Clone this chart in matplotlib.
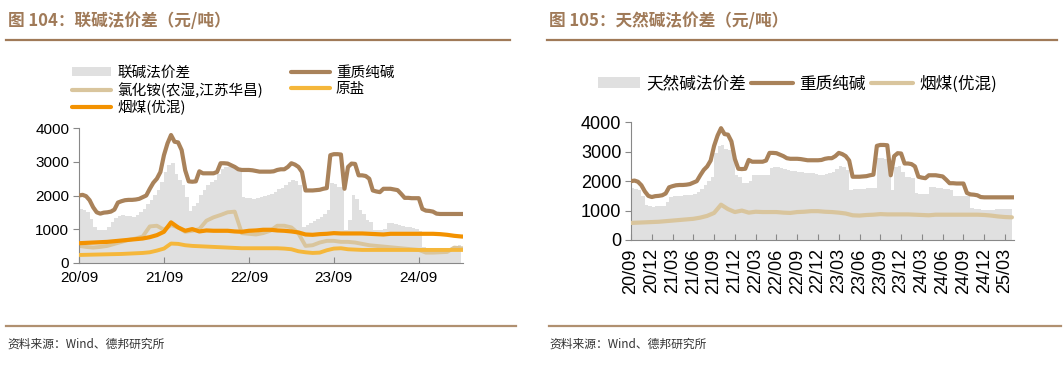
import matplotlib
matplotlib.use("Agg")
import matplotlib.pyplot as plt
import numpy as np
from matplotlib.patches import Patch
from matplotlib.lines import Line2D

plt.rcParams['font.family'] = ['Noto Sans CJK SC', 'DejaVu Sans']

# ---- data (month index 0 = 2020-09) ----
# half-month series
soda_ash = [2000, 2020, 1980, 1860, 1650, 1500, 1460, 1490, 1500, 1520,
            1580, 1790, 1830, 1860, 1870, 1870, 1880, 1900, 1950, 2000,
            2200, 2380, 2500, 2700, 3200, 3550, 3800, 3600, 3580, 3350,
            2750, 2420, 2410, 2420, 2720, 2660, 2660, 2660, 2660, 2700,
            2960, 2960, 2950, 2900, 2850, 2780, 2760, 2760, 2760, 2750,
            2730, 2710, 2710, 2710, 2710, 2720, 2760, 2780, 2780, 2850,
            2960, 2920, 2850, 2700, 2150, 2150, 2150, 2160, 2170, 2200,
            2220, 3200, 3230, 3230, 3220, 2200, 2850, 2950, 2940, 2600,
            2600, 2580, 2500, 2150, 2120, 2100, 2200, 2200, 2200, 2180,
            2160, 2050, 1930, 1930, 1920, 1920, 1920, 1600, 1550, 1540,
            1520, 1460, 1450, 1450, 1450, 1450, 1450, 1450, 1450, 1450,
            1450]
spread_joint = [1600, 1570, 1520, 1300, 1050, 980, 960, 980, 1050, 1200,
                1320, 1380, 1420, 1400, 1380, 1370, 1420, 1500, 1600, 1750,
                1870, 2000, 2160, 2400, 2700, 2900, 2960, 2650, 2450, 2300,
                1960, 1550, 1700, 1780, 2000, 2150, 2300, 2400, 2450, 2650,
                2780, 2850, 2860, 2840, 2810, 2800, 1960, 1940, 1920, 1910,
                1930, 1960, 1980, 2010, 2050, 2110, 2180, 2220, 2300, 2400,
                2460, 2420, 2300, 1070, 1120, 1170, 1250, 1300, 1370, 1450,
                1570, 2360, 2350, 2260, 2240, 980, 1270, 2010, 1900, 1570,
                1450, 1270, 1200, 970, 970, 970, 1000, 1170, 1170, 1150,
                1130, 1100, 1070, 1050, 1030, 1000, 950, 470, 420, 380,
                350, 330, 330, 350, 380, 400, 450, 520, 500]
spread_natural = [1760, 1740, 1700, 1500, 1200, 1140, 1130, 1140, 1150, 1150,
                  1300, 1450, 1480, 1500, 1510, 1520, 1530, 1530, 1560, 1640,
                  1750, 1870, 2000, 2150, 2950, 3180, 3230, 3100, 3060, 3060,
                  2210, 2150, 1930, 1950, 1990, 2210, 2210, 2210, 2210, 2220,
                  2440, 2470, 2490, 2450, 2400, 2380, 2350, 2330, 2320, 2300,
                  2280, 2270, 2260, 2240, 2220, 2210, 2240, 2290, 2300, 2400,
                  2520, 2480, 2380, 1700, 1720, 1730, 1740, 1750, 1760, 1760,
                  1780, 2780, 2800, 2760, 2720, 1700, 2480, 2500, 2300, 2150,
                  2150, 2100, 1590, 1580, 1570, 1560, 1810, 1800, 1780, 1760,
                  1740, 1720, 1700, 1500, 1500, 1500, 1500, 1480, 1080, 1060,
                  1040, 1020, 1020, 1030, 1030, 1040, 1040, 1040, 1040, 1040,
                  1040]
# monthly series
coal = [580, 590, 600, 610, 620, 640, 660, 680, 700, 720,
        760, 820, 920, 1200, 1050, 950, 1000, 930, 960, 950,
        950, 950, 930, 920, 950, 960, 980, 980, 960, 950,
        930, 900, 840, 830, 850, 860, 880, 870, 870, 870,
        870, 860, 850, 840, 860, 860, 860, 860, 860, 860,
        860, 850, 830, 800, 780, 770]
salt = [230, 235, 240, 245, 250, 255, 260, 270, 280, 290,
        310, 360, 420, 570, 560, 520, 500, 490, 480, 470,
        460, 450, 440, 430, 430, 430, 430, 430, 430, 420,
        400, 340, 310, 290, 300, 370, 420, 430, 400, 390,
        380, 380, 380, 380, 380, 380, 380, 380, 380, 380,
        380, 380, 380, 380, 380, 380]
ammonium = [500, 470, 450, 470, 500, 560, 620, 680, 720, 780,
            1080, 1100, 980, 1120, 1050, 920, 950, 1000, 1250, 1350,
            1420, 1500, 1520, 880, 860, 840, 880, 950, 1100, 1100,
            1050, 870, 500, 520, 600, 650, 650, 620, 620, 600,
            560, 520, 500, 480, 460, 440, 420, 400, 380, 300,
            300, 310, 320, 450, 430, 420]

left_ticks = ['20/09', '21/09', '22/09', '23/09', '24/09']
right_ticks = ['20/09', '20/12', '21/03', '21/06', '21/09', '21/12', '22/03',
               '22/06', '22/09', '22/12', '23/03', '23/06', '23/09', '23/12',
               '24/03', '24/06', '24/09', '24/12', '25/03']

# ---- style ----
c_soda = '#A9825A'
c_gray = '#E0E0E0'
c_amm = '#D9C59D'
c_salt = '#F5B73B'
c_coal = '#F39200'
c_title = '#A07A58'
c_rule = '#A07A58'
num_font = 'Liberation Sans'

W, H = 1063, 366
fig = plt.figure(figsize=(W / 100, H / 100), dpi=100)


def fx(px):
    return px / W


def fy(py):
    return 1 - py / H


x_half = np.arange(len(soda_ash)) / 2.0
x_month = np.arange(len(coal))

# ---- headers / footers ----
fig.text(fx(8), fy(21), '图 104：联碱法价差（元/吨）', fontsize=12, fontweight='bold',
         color=c_title, va='center', ha='left')
fig.text(fx(549), fy(21), '图 105：天然碱法价差（元/吨）', fontsize=12, fontweight='bold',
         color=c_title, va='center', ha='left')
for x0, x1 in [(6, 510), (547, 1057)]:
    fig.add_artist(Line2D([fx(x0), fx(x1)], [fy(40), fy(40)], color=c_rule, lw=1.6))
for x0, x1 in [(6, 516), (549, 1061)]:
    fig.add_artist(Line2D([fx(x0), fx(x1)], [fy(326), fy(326)], color='#B09070', lw=1.6))
fig.text(fx(7), fy(344), '资料来源：Wind、德邦研究所', fontsize=8.5, color='#333333',
         va='center', ha='left')
fig.text(fx(549), fy(344), '资料来源：Wind、德邦研究所', fontsize=8.5, color='#333333',
         va='center', ha='left')

# ---- left chart ----
ax1 = fig.add_axes([fx(79), fy(262.7), fx(462.7 - 79), (262.7 - 128.3) / H])
n1 = len(spread_joint)
ax1.fill_between(x_half[:n1], 0, spread_joint, step='post', color=c_gray, lw=0, zorder=1)
ax1.plot(x_month, ammonium, color=c_amm, lw=2.8, zorder=2, solid_capstyle='round')
ax1.plot(x_month, salt, color=c_salt, lw=2.8, zorder=3, solid_capstyle='round')
ax1.plot(x_month, coal, color=c_coal, lw=3.0, zorder=4, solid_capstyle='round')
ax1.plot(x_half, soda_ash, color=c_soda, lw=3.0, zorder=5, solid_joinstyle='round')
ax1.set_xlim(0, 54.2)
ax1.set_ylim(0, 4000)
ax1.set_yticks([0, 1000, 2000, 3000, 4000])
ax1.set_xticks(np.arange(len(left_ticks)) * 12)
ax1.set_xticklabels(left_ticks)
for s in ['top', 'right']:
    ax1.spines[s].set_visible(False)
for s in ['left', 'bottom']:
    ax1.spines[s].set_color('#888888')
    ax1.spines[s].set_linewidth(0.8)
ax1.tick_params(axis='y', direction='out', length=4, color='#888888', pad=3)
ax1.tick_params(axis='x', direction='in', length=4, color='#888888', pad=6)
for lab in ax1.get_xticklabels() + ax1.get_yticklabels():
    lab.set_fontfamily(num_font)
    lab.set_fontsize(11)

h1 = [Patch(facecolor=c_gray, edgecolor='none'),
      Line2D([], [], color=c_amm, lw=3, solid_capstyle='round'),
      Line2D([], [], color=c_coal, lw=3, solid_capstyle='round'),
      Line2D([], [], color=c_soda, lw=3, solid_capstyle='round'),
      Line2D([], [], color=c_salt, lw=3, solid_capstyle='round')]
l1 = ['联碱法价差', '氯化铵(农湿,江苏华昌)', '烟煤(优混)', '重质纯碱', '原盐']
fig.legend(h1, l1, loc='upper left', bbox_to_anchor=(fx(72), fy(66)), ncol=2,
           frameon=False, fontsize=10.5, handlelength=2.7, handleheight=0.6,
           handletextpad=0.4, columnspacing=1.9, labelspacing=0.15,
           borderpad=0, borderaxespad=0)

# ---- right chart ----
ax2 = fig.add_axes([fx(631), fy(240), fx(1014 - 631), (240 - 122.3) / H])
ax2.fill_between(x_half, 0, spread_natural, step='post', color=c_gray, lw=0, zorder=1)
ax2.plot(x_month, coal, color=c_amm, lw=3.0, zorder=3, solid_capstyle='round')
ax2.plot(x_half, soda_ash, color=c_soda, lw=3.0, zorder=5, solid_joinstyle='round')
ax2.set_xlim(0, 55.3)
ax2.set_ylim(0, 4000)
ax2.set_yticks([0, 1000, 2000, 3000, 4000])
ax2.set_xticks(np.arange(len(right_ticks)) * 3)
ax2.set_xticklabels(right_ticks, rotation=90)
for s in ['top', 'right']:
    ax2.spines[s].set_visible(False)
for s in ['left', 'bottom']:
    ax2.spines[s].set_color('#888888')
    ax2.spines[s].set_linewidth(0.8)
ax2.tick_params(axis='y', direction='out', length=4, color='#888888', pad=3)
ax2.tick_params(axis='x', direction='in', length=4, color='#888888', pad=6)
for lab in ax2.get_xticklabels() + ax2.get_yticklabels():
    lab.set_fontfamily(num_font)
    lab.set_fontsize(13)

h2 = [Patch(facecolor=c_gray, edgecolor='none'),
      Line2D([], [], color=c_soda, lw=3, solid_capstyle='round'),
      Line2D([], [], color=c_amm, lw=3, solid_capstyle='round')]
l2 = ['天然碱法价差', '重质纯碱', '烟煤(优混)']
fig.legend(h2, l2, loc='center left', bbox_to_anchor=(fx(598), fy(84)), ncol=3,
           frameon=False, fontsize=12, handlelength=2.5, handleheight=0.6,
           handletextpad=0.4, columnspacing=0.3, borderpad=0, borderaxespad=0)

fig.savefig('out.png', dpi=100)
